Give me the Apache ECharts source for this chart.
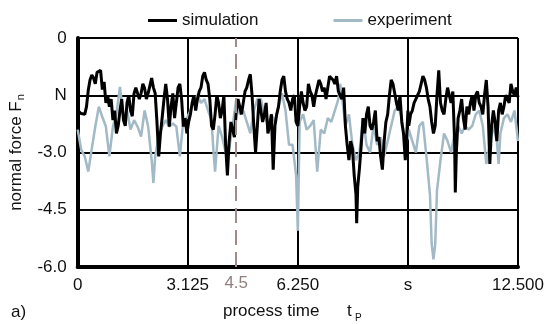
<!DOCTYPE html>
<html>
<head>
<meta charset="utf-8">
<script src="https://cdn.jsdelivr.net/npm/echarts@6/dist/echarts.min.js"></script>
<style>html,body{margin:0;padding:0;background:#fff}#c{width:550px;height:324px}</style>
</head>
<body>
<div id="c"></div>
<script>
const xTickLabels = ["0", "3.125", "6.250", "s", "12.500"];
const yTickLabels = ["-6.0", "-4.5", "-3.0", "N", "0"];
const markerTime = 4.5;

const simTime = [0.0,0.1,0.2,0.25,0.3,0.35,0.4,0.45,0.5,0.55,0.6,0.65,0.7,0.75,0.8,0.85,0.9,0.95,1.0,1.05,1.1,1.15,1.2,1.25,1.3,1.35,1.4,1.45,1.5,1.55,1.6,1.65,1.7,1.75,1.8,1.85,1.9,1.95,2.0,2.05,2.1,2.15,2.2,2.25,2.3,2.35,2.4,2.45,2.5,2.55,2.6,2.65,2.7,2.75,2.8,2.85,2.9,2.95,3.0,3.05,3.1,3.15,3.2,3.25,3.3,3.35,3.4,3.45,3.5,3.55,3.6,3.65,3.7,3.75,3.8,3.85,3.9,3.95,4.0,4.05,4.1,4.15,4.2,4.25,4.3,4.35,4.4,4.45,4.5,4.55,4.6,4.65,4.7,4.75,4.8,4.85,4.9,4.95,5.0,5.05,5.1,5.15,5.2,5.25,5.3,5.35,5.4,5.45,5.5,5.55,5.6,5.65,5.7,5.75,5.8,5.85,5.9,5.95,6.0,6.05,6.1,6.15,6.2,6.25,6.3,6.35,6.4,6.45,6.5,6.55,6.6,6.65,6.7,6.75,6.8,6.85,6.9,6.95,7.0,7.05,7.1,7.15,7.2,7.25,7.3,7.35,7.4,7.45,7.5,7.55,7.6,7.65,7.7,7.75,7.8,7.85,7.9,7.92,7.95,8.0,8.05,8.1,8.15,8.2,8.25,8.3,8.35,8.4,8.45,8.5,8.55,8.6,8.65,8.7,8.75,8.8,8.85,8.9,8.95,9.0,9.05,9.1,9.15,9.2,9.25,9.3,9.35,9.375,9.4,9.45,9.5,9.55,9.6,9.65,9.7,9.75,9.8,9.85,9.9,9.95,10.0,10.05,10.1,10.15,10.2,10.25,10.3,10.35,10.4,10.45,10.5,10.55,10.6,10.65,10.7,10.72,10.75,10.8,10.85,10.9,10.95,11.0,11.05,11.1,11.15,11.2,11.25,11.3,11.35,11.4,11.45,11.5,11.55,11.6,11.65,11.7,11.75,11.8,11.85,11.9,11.95,12.0,12.05,12.1,12.15,12.2,12.25,12.3,12.35,12.4,12.45,12.5];
const simForce = [-1.9,-1.98,-2.0,-1.8,-1.37,-1.1,-0.97,-1.05,-1.2,-0.9,-0.93,-0.85,-1.35,-1.15,-1.7,-1.5,-1.8,-1.6,-2.15,-1.9,-2.5,-2.3,-1.9,-1.6,-2.15,-2.3,-1.7,-1.5,-1.9,-2.05,-1.45,-1.3,-1.28,-1.6,-1.45,-1.2,-1.32,-1.6,-1.45,-1.25,-1.05,-1.3,-1.45,-2.2,-3.1,-2.5,-2.07,-1.6,-1.2,-1.6,-2.32,-1.8,-1.45,-2.1,-1.7,-1.3,-1.2,-1.6,-2.32,-2.1,-2.5,-2.2,-2.0,-1.7,-1.5,-1.9,-1.6,-1.4,-1.3,-1.0,-0.9,-1.1,-1.2,-1.6,-2.3,-2.4,-2.0,-1.5,-1.7,-2.1,-1.9,-1.5,-2.8,-3.6,-2.7,-2.2,-2.4,-2.6,-1.95,-1.6,-1.8,-2.0,-1.7,-1.4,-1.3,-1.1,-0.95,-1.5,-2.3,-3.0,-2.3,-1.6,-1.9,-2.2,-2.0,-1.7,-2.5,-2.3,-2.0,-3.45,-2.3,-2.0,-1.8,-1.4,-1.1,-1.0,-1.4,-1.6,-1.7,-1.9,-1.6,-1.5,-2.2,-2.3,-1.8,-1.4,-1.7,-1.9,-1.8,-1.2,-1.4,-1.5,-1.8,-1.5,-1.3,-1.1,-1.2,-1.4,-1.3,-1.6,-1.3,-1.0,-0.97,-1.1,-1.2,-1.0,-1.4,-1.5,-1.6,-1.3,-2.3,-2.8,-3.2,-2.7,-2.9,-3.6,-4.1,-4.85,-3.9,-3.4,-2.8,-2.1,-2.5,-2.0,-1.8,-2.3,-2.4,-2.2,-1.9,-2.7,-2.6,-3.1,-3.45,-2.7,-2.2,-2.0,-1.5,-1.1,-1.2,-1.45,-1.7,-1.9,-1.5,-2.2,-2.5,-3.2,-2.4,-1.9,-2.3,-2.0,-1.9,-1.7,-1.6,-1.5,-1.4,-1.2,-1.0,-1.1,-1.3,-1.6,-1.8,-2.2,-2.5,-2.3,-1.5,-0.85,-1.7,-1.9,-2.0,-1.6,-1.3,-1.5,-1.7,-1.4,-2.7,-4.05,-3.0,-2.1,-1.9,-1.6,-2.1,-2.4,-1.8,-2.0,-1.7,-1.5,-1.9,-1.5,-1.4,-1.7,-1.8,-2.0,-1.5,-1.1,-1.8,-3.3,-2.3,-1.9,-2.2,-2.7,-1.9,-1.7,-2.0,-1.8,-1.5,-1.55,-1.7,-1.2,-1.4,-1.5,-1.3,-1.55];

const expTime = [0.0,0.1,0.2,0.3,0.4,0.5,0.6,0.7,0.8,0.9,1.0,1.1,1.2,1.3,1.4,1.5,1.6,1.7,1.8,1.9,2.0,2.1,2.15,2.2,2.3,2.4,2.5,2.6,2.7,2.8,2.9,3.0,3.1,3.2,3.3,3.4,3.5,3.6,3.7,3.8,3.85,3.9,4.0,4.1,4.2,4.3,4.4,4.5,4.6,4.7,4.8,4.9,5.0,5.1,5.2,5.3,5.4,5.5,5.6,5.7,5.8,5.9,6.0,6.1,6.2,6.25,6.3,6.4,6.5,6.6,6.7,6.8,6.9,7.0,7.1,7.2,7.3,7.4,7.45,7.5,7.6,7.7,7.8,7.9,8.0,8.1,8.2,8.3,8.4,8.5,8.6,8.7,8.8,8.9,9.0,9.1,9.2,9.3,9.375,9.4,9.5,9.6,9.7,9.8,9.9,9.95,10.0,10.05,10.1,10.15,10.2,10.3,10.4,10.5,10.6,10.7,10.8,10.9,11.0,11.1,11.2,11.3,11.4,11.5,11.6,11.7,11.8,11.9,11.95,12.0,12.1,12.2,12.3,12.4,12.5];
const expForce = [-2.4,-2.93,-3.1,-3.5,-2.9,-2.32,-1.8,-2.07,-2.32,-3.1,-2.32,-1.98,-1.28,-2.07,-1.9,-2.4,-2.15,-2.32,-2.58,-1.9,-2.32,-3.2,-3.8,-3.1,-2.58,-2.32,-2.15,-2.32,-2.24,-2.32,-3.1,-2.15,-2.1,-1.9,-1.6,-1.5,-1.7,-1.6,-1.9,-2.15,-2.9,-3.5,-2.3,-2.6,-3.0,-2.9,-2.3,-1.6,-2.0,-1.9,-2.2,-2.5,-1.9,-1.6,-1.6,-2.0,-2.3,-2.0,-2.2,-1.8,-1.45,-1.9,-2.8,-2.8,-3.6,-5.05,-2.2,-2.0,-2.4,-2.3,-2.15,-3.5,-2.4,-2.5,-2.1,-2.2,-1.9,-1.6,-1.2,-1.5,-2.3,-2.0,-2.8,-3.2,-3.0,-2.1,-2.8,-3.0,-2.3,-2.8,-2.6,-3.1,-2.7,-2.3,-1.9,-1.8,-2.1,-2.8,-2.6,-2.4,-2.7,-3.0,-2.3,-2.2,-3.1,-3.6,-4.1,-5.4,-5.8,-5.4,-4.0,-3.2,-2.5,-2.7,-3.0,-2.5,-2.3,-2.5,-2.3,-2.4,-2.3,-2.0,-1.9,-2.3,-3.3,-2.8,-2.3,-2.7,-3.3,-2.5,-2.1,-2.0,-2.2,-1.9,-2.7];

const FONT = "'Liberation Sans', Arial, sans-serif";
const chart = echarts.init(document.getElementById('c'), null, {renderer: 'canvas'});
const zip = (a, b) => a.map((t, i) => [t, b[i]]);

chart.setOption({
  animation: false,
  backgroundColor: '#fff',
  textStyle: {fontFamily: FONT},
  legend: {
    data: ['simulation', 'experiment'],
    left: 143, top: 7,
    icon: 'rect', itemWidth: 29, itemHeight: 3, itemGap: 75,
    textStyle: {fontSize: 17, color: '#111', fontFamily: FONT}
  },
  grid: {left: 74, right: 32, top: 38, bottom: 57, containLabel: false},
  xAxis: {
    type: 'value', min: 0, max: 12.5, interval: 3.125,
    axisLine: {show: true, onZero: false, lineStyle: {color: '#000', width: 4}},
    axisTick: {show: false},
    axisLabel: {fontSize: 17, color: '#111', margin: 10, fontFamily: FONT,
      formatter: (v, i) => xTickLabels[Math.round(v / 3.125)]},
    splitLine: {show: true, lineStyle: {color: '#000', width: 2}}
  },
  yAxis: {
    type: 'value', min: -6, max: 0, interval: 1.5,
    name: '{a|normal force F}{b|n}',
    nameLocation: 'middle', nameGap: 43, nameRotate: 90,
    nameTextStyle: {
      fontFamily: FONT, color: '#111',
      rich: {
        a: {fontSize: 17, color: '#111', fontFamily: FONT, lineHeight: 20},
        b: {fontSize: 11, color: '#111', fontFamily: FONT, verticalAlign: 'bottom', padding: [8, 0, 0, 1]}
      }
    },
    axisLine: {show: true, onZero: false, lineStyle: {color: '#000', width: 4}},
    axisTick: {show: false},
    axisLabel: {fontSize: 17, color: '#111', margin: 11, fontFamily: FONT,
      formatter: (v) => yTickLabels[Math.round((v + 6) / 1.5)]},
    splitLine: {show: true, lineStyle: {color: '#000', width: 2}}
  },
  graphic: [
    {type: 'text', left: 223, top: 303, style: {text: 'process time', fontSize: 17, fill: '#111', fontFamily: FONT}},
    {type: 'text', left: 347, top: 303, style: {text: 't', fontSize: 17, fill: '#111', fontFamily: FONT}},
    {type: 'text', left: 355, top: 313, style: {text: 'P', fontSize: 10, fill: '#111', fontFamily: FONT}},
    {type: 'text', left: 11, top: 304, style: {text: 'a)', fontSize: 17, fill: '#111', fontFamily: FONT}}
  ],
  series: [
    {
      name: 'experiment', type: 'line', data: zip(expTime, expForce),
      showSymbol: false, symbol: 'none', z: 2,
      lineStyle: {color: '#a2b9c6', width: 2.5},
      itemStyle: {color: '#a2b9c6'},
      markLine: {
        silent: true, symbol: 'none', animation: false,
        lineStyle: {color: '#a08b89', type: [15, 7], width: 2},
        label: {show: true, position: 'start', formatter: '4.5', fontSize: 17, color: '#8f7f7d', fontFamily: FONT, distance: 8},
        data: [{xAxis: markerTime}]
      }
    },
    {
      name: 'simulation', type: 'line', data: zip(simTime, simForce),
      showSymbol: false, symbol: 'none', z: 3,
      lineStyle: {color: '#000', width: 3},
      itemStyle: {color: '#000'}
    }
  ]
});
</script>
</body>
</html>
